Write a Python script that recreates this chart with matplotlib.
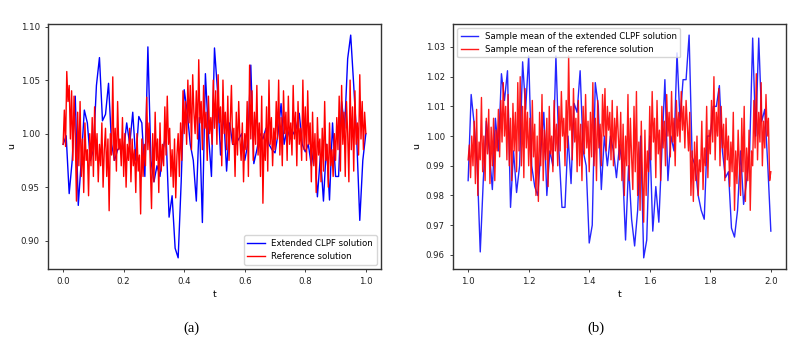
import numpy as np
import matplotlib
matplotlib.use("Agg")
import matplotlib.pyplot as plt

# ---- panel (a): extended CLPF vs reference, t in [0, 1]
t_clpf_a = np.linspace(0.0, 1.0, 101)
u_clpf_a = [
    0.990, 0.998, 0.944, 0.975, 1.035, 0.933, 0.975, 1.022, 1.010, 0.975,
    0.985, 1.045, 1.071, 1.012, 1.018, 1.047, 0.990, 0.975, 0.985, 0.988,
    0.985, 1.010, 0.990, 1.020, 0.975, 1.016, 1.010, 0.960, 1.081, 0.975,
    0.955, 0.970, 0.960, 0.985, 1.000, 0.922, 0.942, 0.893, 0.884, 0.955,
    1.041, 1.020, 0.990, 0.975, 0.937, 1.015, 0.917, 1.056, 1.000, 0.960,
    1.080, 1.040, 0.980, 1.020, 0.965, 1.010, 0.990, 0.990, 0.995, 1.000,
    0.975, 0.990, 1.064, 0.972, 0.985, 1.000, 0.995, 1.005, 0.990, 0.985,
    0.982, 1.000, 1.028, 0.990, 1.005, 0.995, 1.000, 1.005, 1.019, 0.990,
    0.983, 0.990, 0.970, 0.990, 0.941, 0.980, 0.937, 0.990, 0.938, 1.010,
    0.960, 0.960, 1.030, 1.005, 1.070, 1.092, 1.045, 0.995, 0.919, 0.975,
    1.000,
]

t_ref_a = np.linspace(0.0, 1.0, 251)
u_ref_a = [
    0.990, 1.022, 0.988, 1.058, 1.030, 1.045, 0.995, 1.040, 0.975, 1.035, 1.000, 0.937, 1.020, 0.970, 1.030, 0.960, 0.995, 0.945, 1.010, 0.975, 0.985, 0.942, 1.000, 0.970, 1.015,
    0.960, 1.025, 0.975, 1.000, 0.955, 0.990, 0.970, 1.010, 0.950, 0.985, 1.005, 0.960, 0.995, 0.928, 1.000, 0.980, 1.053, 0.975, 1.005, 0.965, 1.030, 0.985, 0.995, 0.970, 1.015,
    0.960, 1.000, 0.950, 0.990, 0.975, 1.005, 0.955, 0.995, 0.970, 0.985, 0.945, 1.000, 0.965, 0.980, 0.925, 0.995, 0.960, 0.990, 0.970, 1.034, 0.985, 1.010, 0.970, 0.930, 1.000,
    0.955, 1.020, 0.975, 0.995, 0.945, 1.010, 0.965, 0.990, 0.970, 1.025, 0.980, 1.035, 0.990, 1.005, 0.960, 0.985, 0.950, 0.995, 0.940, 0.980, 1.000, 0.960, 1.010, 0.975, 1.040,
    1.000, 1.030, 0.990, 1.050, 1.010, 1.045, 0.985, 1.055, 1.020, 1.000, 1.040, 0.995, 1.069, 1.010, 1.030, 0.985, 1.045, 1.005, 1.020, 0.975, 1.035, 1.000, 1.015, 0.990, 1.050,
    1.005, 1.040, 0.990, 1.055, 1.010, 1.025, 0.970, 1.050, 1.000, 1.020, 0.985, 1.035, 0.975, 1.010, 1.045, 0.990, 1.005, 0.960, 1.020, 0.980, 1.030, 0.995, 0.975, 1.010, 0.955,
    1.000, 0.985, 1.030, 0.960, 1.064, 0.995, 1.040, 0.975, 1.020, 0.990, 1.045, 0.980, 1.010, 0.960, 1.035, 0.935, 1.000, 0.975, 1.025, 0.965, 1.050, 0.990, 1.015, 0.970, 1.005,
    0.985, 1.030, 0.995, 1.050, 0.980, 1.015, 0.970, 1.040, 1.000, 1.020, 0.975, 1.035, 0.990, 1.010, 0.980, 1.045, 0.995, 1.020, 0.970, 1.030, 0.990, 1.005, 0.975, 1.050, 0.985,
    1.025, 0.975, 1.040, 0.990, 1.010, 0.955, 1.020, 0.970, 1.000, 0.945, 1.015, 0.980, 0.995, 0.955, 1.005, 0.965, 1.030, 0.975, 0.990, 0.950, 1.010, 0.970, 0.985, 0.960, 1.000,
    0.975, 1.015, 0.985, 1.035, 0.965, 1.045, 0.990, 1.020, 0.960, 1.030, 1.000, 0.955, 1.050, 0.985, 1.025, 0.965, 1.040, 0.990, 1.010, 0.980, 1.055, 0.995, 1.030, 0.985, 1.020,
    1.000,
]

# ---- panel (b): sample means, t in [1, 2]
t_clpf_b = np.linspace(1.0, 2.0, 101)
u_clpf_b = [
    0.985, 1.014, 1.004, 0.990, 0.961, 0.985, 1.005, 0.995, 0.982, 1.006,
    0.995, 1.021, 1.012, 1.022, 0.976, 0.995, 0.981, 0.990, 1.025, 1.009,
    1.027, 0.990, 0.983, 0.980, 0.995, 1.008, 0.980, 0.995, 0.990, 1.027,
    0.995, 0.976, 0.976, 1.000, 0.984, 1.011, 1.008, 1.022, 0.995, 0.990,
    0.964, 0.970, 1.018, 1.010, 0.982, 1.000, 0.990, 1.000, 0.995, 0.986,
    0.997, 0.990, 0.965, 0.990, 0.972, 0.963, 0.975, 1.000, 0.959, 0.965,
    1.000, 0.968, 0.983, 0.971, 0.995, 1.019, 0.985, 1.000, 0.995, 1.028,
    1.005, 1.019, 1.019, 1.034, 0.993, 0.990, 0.980, 0.975, 0.972, 1.000,
    1.000, 1.010, 1.010, 1.017, 0.995, 0.986, 0.988, 0.969, 0.966, 0.975,
    0.995, 0.977, 0.985, 0.995, 1.033, 1.000, 1.033, 1.005, 1.009, 0.990,
    0.968,
]

t_ref_b = np.linspace(1.0, 2.0, 251)
u_ref_b = [
    0.992, 0.997, 0.986, 1.000, 0.990, 1.005, 0.984, 1.009, 0.980, 0.998, 0.992, 1.013, 0.988, 1.000, 0.985, 1.006, 0.994, 1.009, 0.984, 1.003, 0.990, 1.006, 0.985, 1.002, 0.995,
    1.009, 0.993, 1.012, 0.998, 1.018, 1.000, 1.010, 0.992, 1.014, 0.990, 1.006, 0.985, 1.011, 0.995, 1.008, 0.988, 1.018, 0.995, 1.020, 0.990, 1.010, 0.986, 1.016, 0.996, 1.008,
    0.990, 1.006, 0.985, 1.012, 0.993, 1.004, 0.980, 1.000, 0.978, 1.008, 0.990, 1.014, 0.985, 1.002, 0.992, 1.006, 0.983, 1.010, 0.994, 1.000, 0.988, 1.012, 0.995, 1.004, 0.990,
    1.010, 0.995, 1.015, 1.000, 1.006, 0.990, 1.012, 0.996, 1.027, 1.002, 1.010, 0.992, 1.016, 0.998, 1.006, 0.988, 1.012, 0.990, 1.004, 0.985, 1.010, 0.994, 1.014, 0.996, 1.005,
    0.988, 1.008, 0.993, 1.018, 0.990, 1.006, 0.985, 1.012, 0.996, 1.004, 0.990, 1.014, 1.000, 1.016, 0.995, 1.010, 1.002, 1.008, 0.992, 1.012, 0.990, 1.006, 0.996, 1.010, 1.000,
    0.992, 1.008, 0.985, 1.004, 0.980, 1.000, 0.990, 1.014, 0.985, 1.006, 0.993, 0.982, 1.010, 0.988, 1.015, 0.980, 0.998, 0.975, 1.005, 0.985, 0.971, 1.002, 0.980, 0.995, 0.988,
    1.010, 0.992, 1.015, 0.998, 1.006, 0.986, 1.012, 0.994, 1.002, 0.985, 1.010, 0.996, 1.005, 0.990, 1.014, 1.000, 1.008, 0.993, 1.015, 0.998, 1.006, 0.990, 1.012, 1.000, 1.008,
    0.998, 1.015, 1.002, 1.010, 0.996, 1.012, 1.004, 0.995, 1.008, 0.980, 0.995, 0.978, 0.998, 0.985, 1.000, 0.980, 0.992, 0.988, 1.005, 0.982, 0.996, 0.990, 1.010, 0.986, 1.002,
    0.994, 1.012, 0.998, 1.020, 0.992, 1.008, 1.000, 1.016, 0.990, 1.010, 0.996, 1.004, 0.985, 1.006, 0.992, 1.000, 0.983, 0.998, 0.988, 1.008, 0.975, 0.995, 0.984, 1.002, 0.990,
    0.980, 1.006, 0.988, 1.010, 0.978, 0.996, 0.985, 1.002, 0.975, 0.995, 0.990, 1.012, 0.996, 1.021, 0.992, 1.008, 0.998, 1.018, 0.990, 1.005, 0.996, 1.014, 1.000, 1.006, 0.985,
    0.988,
]

plt.rcParams['font.size'] = 6.2
plt.rcParams['axes.edgecolor'] = '#333333'
plt.rcParams['axes.linewidth'] = 1.0
plt.rcParams['xtick.major.size'] = 2.5
plt.rcParams['ytick.major.size'] = 2.5
plt.rcParams['xtick.major.width'] = 0.6
plt.rcParams['ytick.major.width'] = 0.6
plt.rcParams['xtick.color'] = '#222222'
plt.rcParams['ytick.color'] = '#222222'

fig = plt.figure(figsize=(7.96, 3.42), dpi=100)
ax1 = fig.add_axes([0.0603, 0.2135, 0.4183, 0.7164])
ax2 = fig.add_axes([0.5691, 0.2135, 0.4183, 0.7164])

ax1.plot(t_clpf_a, u_clpf_a, color='blue', lw=1.0, label='Extended CLPF solution')
ax1.plot(t_ref_a, u_ref_a, color='red', lw=1.0, label='Reference solution')
ax1.set_xlabel('t', labelpad=2.5, fontsize=6.8)
ax1.set_ylabel('u', labelpad=3, fontsize=6.8)
ax1.set_yticks([0.90, 0.95, 1.00, 1.05, 1.10])
ax1.legend(loc='lower right', fontsize=6.2)

ax2.plot(t_clpf_b, u_clpf_b, color='blue', lw=1.0, alpha=0.85,
         label='Sample mean of the extended CLPF solution')
ax2.plot(t_ref_b, u_ref_b, color='red', lw=1.0, alpha=0.9,
         label='Sample mean of the reference solution')
ax2.set_xlabel('t', labelpad=2.5, fontsize=6.8)
ax2.set_ylabel('u', labelpad=3, fontsize=6.8)
ax2.legend(loc='upper left', fontsize=6.2)

fig.text(0.241, 0.041, '(a)', ha='center', va='center', family='Liberation Serif', fontsize=10.5)
fig.text(0.749, 0.041, '(b)', ha='center', va='center', family='Liberation Serif', fontsize=10.5)

fig.savefig('out.png', dpi=100)
